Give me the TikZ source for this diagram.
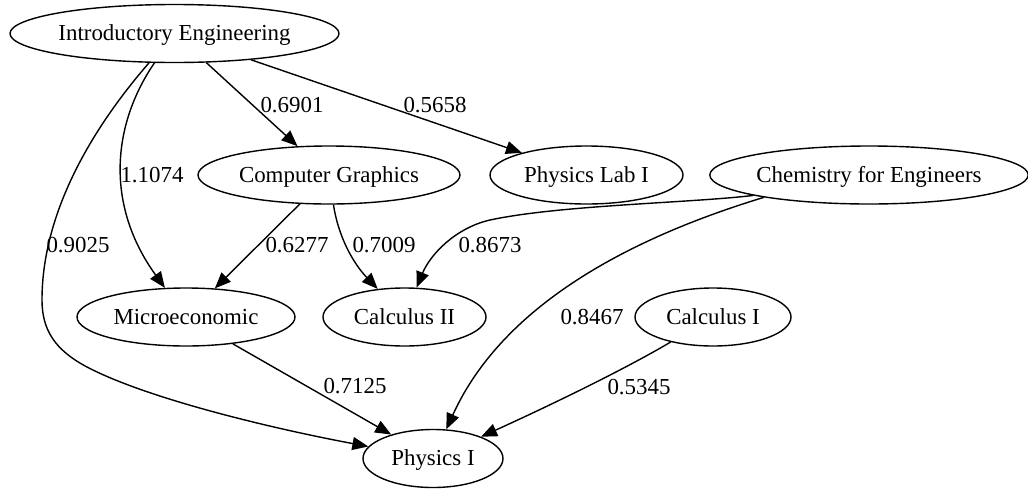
\documentclass[tikz,border=0pt]{standalone}
\usepackage{fontspec}
\setmainfont{Liberation Serif}
\usetikzlibrary{positioning,arrows.meta,shapes.geometric}
\tikzset{
  coursenode/.style={draw, ellipse, line width=0.7pt, inner sep=0pt,
                     minimum height=29pt, text height=7.5pt, text depth=0.5pt,
                     font=\fontsize{11.45pt}{13pt}\selectfont},
  wlabel/.style={inner sep=0pt, text height=7.5pt, text depth=0.5pt,
                 font=\fontsize{11.45pt}{13pt}\selectfont},
  prereqarrow/.style={-{Triangle[length=8pt, width=6.5pt]}, line width=0.7pt},
}

\begin{document}
\begin{tikzpicture}[x=0.5pt, y=-0.5pt]
\useasboundingbox (0,0) rectangle (1028,488);
\def\yTop{33.5}   % y-position for first rank
\def\yMid{175}    % y-position for second rank
\def\yLow{317}    % y-position for third rank
\def\yBot{458.5}  % y-position for last rank

%% Courses
\node[coursenode, minimum width=164.5pt] (intro) at (174.5,\yTop) {Introductory Engineering};
\node[coursenode, minimum width=131pt] (cg) at (329,\yMid) {Computer Graphics};
\node[coursenode, minimum width=96.5pt] (plab) at (586.5,\yMid) {Physics Lab I};
\node[coursenode, minimum width=158pt] (chem) at (869,\yMid) {Chemistry for Engineers};
\node[coursenode, minimum width=109pt] (micro) at (186,\yLow) {Microeconomic};
\node[coursenode, minimum width=81.5pt] (calc2) at (404.5,\yLow) {Calculus II};
\node[coursenode, minimum width=78pt] (calc1) at (713,\yLow) {Calculus I};
\node[coursenode, minimum width=70pt] (phys1) at (433,\yBot) {Physics I};

%% Weights
\node[wlabel] (wIntroCg) at (292,105) {0.6901};
\node[wlabel] (wIntroPlab) at (435,105) {0.5658};
\node[wlabel] (wIntroMicro) at (152,175) {1.1074};
\node[wlabel] (wIntroPhys) at (78,245) {0.9025};
\node[wlabel] (wCgMicro) at (297,245) {0.6277};
\node[wlabel] (wCgCalc) at (384,245) {0.7009};
\node[wlabel] (wChemCalc) at (490,245) {0.8673};
\node[wlabel] (wChemPhys) at (592,317) {0.8467};
\node[wlabel] (wMicroPhys) at (355,386) {0.7125};
\node[wlabel] (wCalcPhys) at (639,387) {0.5345};

%% Prerequisite edges
\draw[prereqarrow] (intro) -- (cg);
\draw[prereqarrow] (intro) -- (plab);
\draw[prereqarrow] (intro) .. controls (112,125) and (105,205) .. (micro);
\draw[prereqarrow] (intro) .. controls (95,125) and (42,210) .. (42,300)
  .. controls (42,330) and (55,350) .. (87,367)
  .. controls (150,400) and (280,430) .. (phys1);
\draw[prereqarrow] (cg) -- (micro);
\draw[prereqarrow] (cg) .. controls (338,235) and (352,262) .. (calc2);
\draw[prereqarrow] (chem.190) .. controls (690,203) and (560,205) .. (490,220)
  .. controls (455,228) and (430,255) .. (calc2);
\draw[prereqarrow] (chem.192) .. controls (640,235) and (505,300) .. (phys1);
\draw[prereqarrow] (micro) -- (phys1);
\draw[prereqarrow] (calc1) .. controls (620,372) and (540,410) .. (phys1);
\end{tikzpicture}
\end{document}
